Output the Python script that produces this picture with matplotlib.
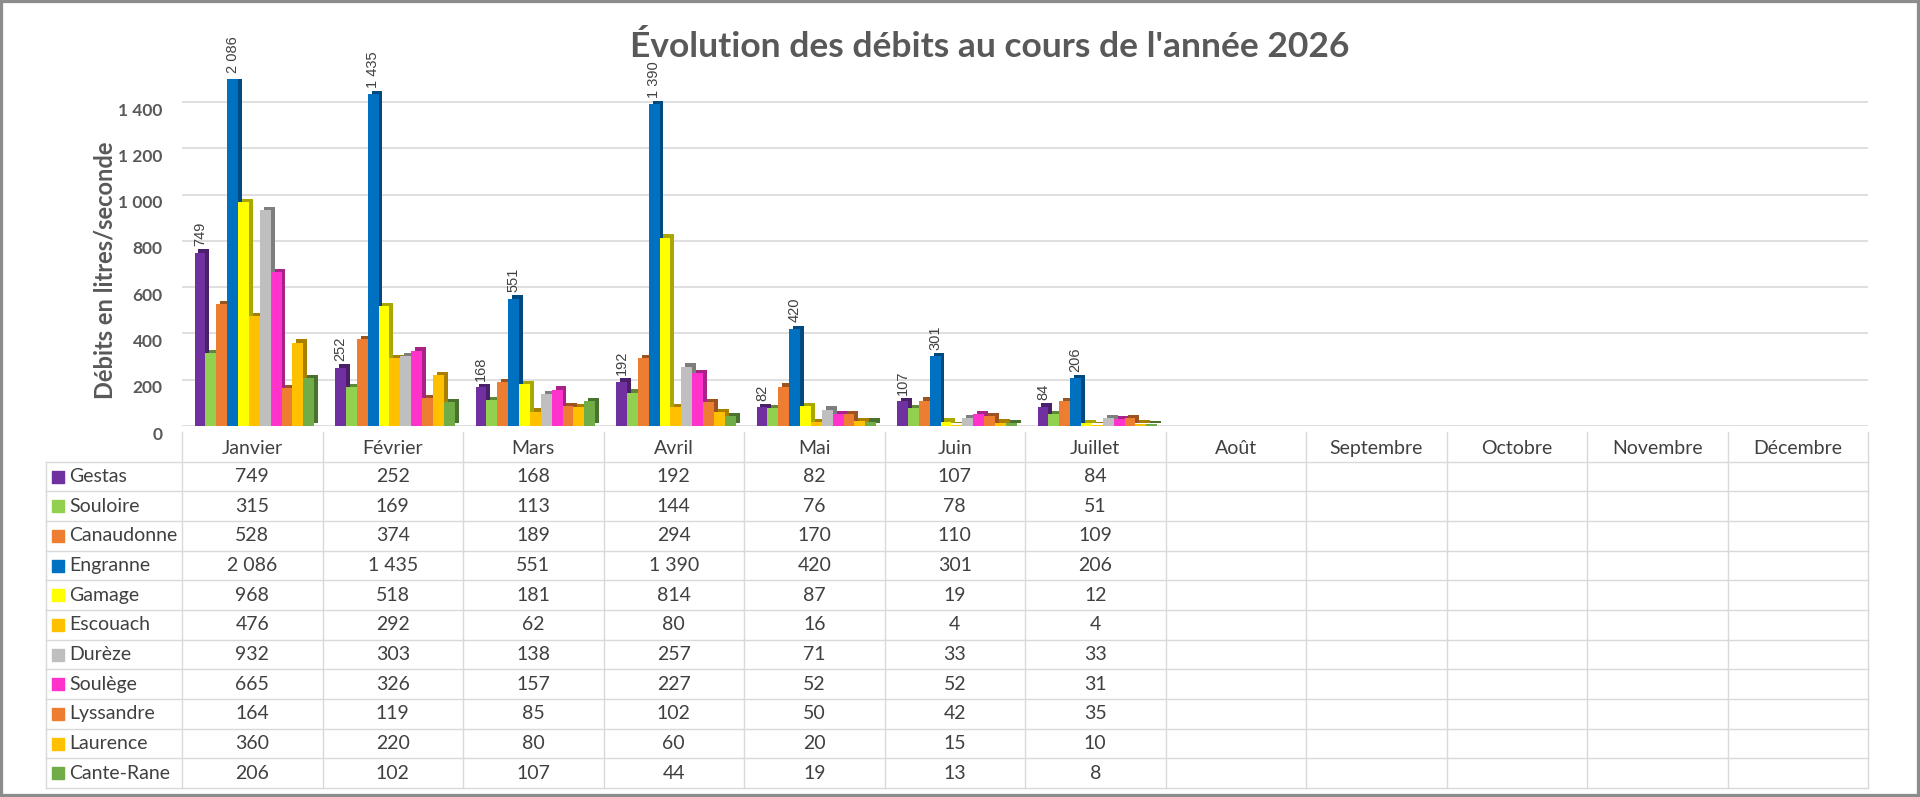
import numpy as np
import matplotlib
matplotlib.use('Agg')
import matplotlib.pyplot as plt
from matplotlib.patches import Rectangle
from matplotlib.transforms import ScaledTranslation
from matplotlib.colors import to_rgb

plt.rcParams['font.family'] = ['Lato', 'DejaVu Sans']

months = ['Janvier', 'Février', 'Mars', 'Avril', 'Mai', 'Juin', 'Juillet',
          'Août', 'Septembre', 'Octobre', 'Novembre', 'Décembre']

series_names = ['Gestas', 'Souloire', 'Canaudonne', 'Engranne', 'Gamage',
                'Escouach', 'Durèze', 'Soulège', 'Lyssandre', 'Laurence',
                'Cante-Rane']

gestas = [749, 252, 168, 192, 82, 107, 84]
souloire = [315, 169, 113, 144, 76, 78, 51]
canaudonne = [528, 374, 189, 294, 170, 110, 109]
engranne = [2086, 1435, 551, 1390, 420, 301, 206]
gamage = [968, 518, 181, 814, 87, 19, 12]
escouach = [476, 292, 62, 80, 16, 4, 4]
dureze = [932, 303, 138, 257, 71, 33, 33]
soulege = [665, 326, 157, 227, 52, 52, 31]
lyssandre = [164, 119, 85, 102, 50, 42, 35]
laurence = [360, 220, 80, 60, 20, 15, 10]
cante_rane = [206, 102, 107, 44, 19, 13, 8]

series = [gestas, souloire, canaudonne, engranne, gamage, escouach,
          dureze, soulege, lyssandre, laurence, cante_rane]
colors = ['#7030A0', '#92D050', '#ED7D31', '#0070C0', '#FFFF00', '#FFC000',
          '#BFBFBF', '#FF33CC', '#ED7D31', '#FFC000', '#70AD47']
labelled = ['Gestas', 'Engranne']

ymax = 1500
yticks = [0, 200, 400, 600, 800, 1000, 1200, 1400]


def fmt(v):
    return f'{v:,}'.replace(',', ' ')


W, H = 1920, 797
fig = plt.figure(figsize=(W / 100, H / 100), dpi=100)

# chart area
ax = fig.add_axes([182 / W, 1 - 426 / H, (1868 - 182) / W, 347 / H])
ax.set_xlim(0, 12)
ax.set_ylim(0, ymax)

pitch = 0.0774
w = 0.0774
dx = 0.028
dy = 14

for k, (name, vals, col) in enumerate(zip(series_names, series, colors)):
    vals = np.array(vals)
    xs = np.arange(len(vals)) + 0.128 + k * pitch
    dark = tuple(c * 0.66 for c in to_rgb(col))
    ax.bar(xs + dx, vals, bottom=dy, width=w, color=dark, zorder=2 + k * 0.1)
    ax.bar(xs, vals, width=w, color=col, zorder=2.05 + k * 0.1)
    if name in labelled:
        for x, v in zip(xs, vals):
            ax.text(x, min(v, ymax) + 28, fmt(v), rotation=90, ha='center',
                    va='bottom', fontsize=10.5, color='#404040',
                    family=['Liberation Sans', 'DejaVu Sans'], clip_on=False)

ax.set_yticks(yticks)
ax.set_yticklabels([fmt(t) for t in yticks], fontweight='bold',
                   fontsize=12.5, color='#595959')
ax.set_xticks([])
ax.tick_params(axis='y', length=0, pad=14)
off = ScaledTranslation(0, -0.07, fig.dpi_scale_trans)
for lbl in ax.get_yticklabels():
    lbl.set_transform(lbl.get_transform() + off)
for s in ax.spines.values():
    s.set_visible(False)
ax.yaxis.grid(True, color='#d9d9d9', lw=1.2)
ax.set_axisbelow(True)
ax.patch.set_alpha(0)

fig.text(105 / W, 1 - 270 / H, 'Débits en litres/seconde', rotation=90,
         ha='center', va='center', fontsize=17, fontweight='bold',
         color='#595959')
fig.text(990 / W, 1 - 57 / H, "Évolution des débits au cours de l'année 2026",
         ha='center', va='baseline', fontsize=25.5, fontweight='bold',
         color='#595959')

# data table
tab = fig.add_axes([46 / W, 1 - 788 / H, (1868 - 46) / W, (788 - 432) / H])
wleg = (182 - 46) / 140.5
nrows = len(series) + 1
tab.set_xlim(-wleg, 12)
tab.set_ylim(nrows, 0)
tab.axis('off')
grid = '#d9d9d9'
for i in range(13):
    tab.plot([i, i], [0, nrows], color=grid, lw=1, clip_on=False)
tab.plot([-wleg, -wleg], [1, nrows], color=grid, lw=1, clip_on=False)
for r in range(1, nrows + 1):
    tab.plot([-wleg, 12], [r, r], color=grid, lw=1, clip_on=False)

for i, m in enumerate(months):
    tab.text(i + 0.5, 0.55, m, ha='center', va='center', fontsize=14,
             color='#404040')
for r, (name, vals, col) in enumerate(zip(series_names, series, colors)):
    y = r + 1.5
    tab.scatter([-wleg + 0.085], [y], marker='s', s=80, color=col,
                clip_on=False)
    tab.text(-wleg + 0.164, y, name, ha='left', va='center', fontsize=14,
             color='#404040')
    for i, v in enumerate(vals):
        tab.text(i + 0.5, y, fmt(v), ha='center', va='center', fontsize=14,
                 color='#404040')

fig.patches.append(Rectangle((0, 0), 1, 1, transform=fig.transFigure,
                             fill=False, lw=4.5, edgecolor='#8c8c8c'))

fig.savefig('out.png', dpi=100)
